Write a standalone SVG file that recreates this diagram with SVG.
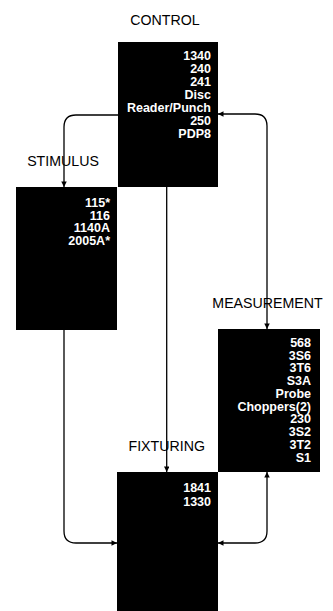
<svg xmlns="http://www.w3.org/2000/svg" width="333" height="611" viewBox="0 0 333 611">
<style>
.box{fill:#000}
.t{font-family:"Liberation Sans",Arial,sans-serif;font-weight:bold;font-size:12.5px;fill:#fff;text-anchor:end}
.lbl{font-family:"Liberation Sans",Arial,sans-serif;font-size:14.2px;fill:#000}
.c{fill:none;stroke:#000;stroke-width:1.3}
</style>
<defs>
<marker id="ah" viewBox="0 0 10 10" refX="10" refY="5" markerWidth="8" markerHeight="5.5" markerUnits="userSpaceOnUse" orient="auto-start-reverse">
<path d="M0,0 L10,5 L0,10 z" fill="#000"/>
</marker>
</defs>
<rect width="333" height="611" fill="#fff"/>
<g id="connectors">
<path class="c" d="M118,115 H76 Q64,115 64,127 V187" marker-end="url(#ah)"/>
<path class="c" d="M218,114 H255 Q267,114 267,126 V329" marker-start="url(#ah)" marker-end="url(#ah)"/>
<path class="c" d="M166.7,187 V472" marker-end="url(#ah)"/>
<path class="c" d="M64,330 V531 Q64,543 76,543 H117" marker-end="url(#ah)"/>
<path class="c" d="M267,472 V531 Q267,543 255,543 H218" marker-start="url(#ah)" marker-end="url(#ah)"/>
</g>
<g id="control">
<text class="lbl" x="165" y="25" text-anchor="middle">CONTROL</text>
<rect class="box" x="118" y="42" width="100" height="145"/>
<text class="t" x="211" y="60">1340</text>
<text class="t" x="211" y="73">240</text>
<text class="t" x="211" y="86">241</text>
<text class="t" x="211" y="99">Disc</text>
<text class="t" x="211" y="112">Reader/Punch</text>
<text class="t" x="211" y="125">250</text>
<text class="t" x="211" y="138">PDP8</text>
</g>
<g id="stimulus">
<text class="lbl" x="63" y="166" text-anchor="middle">STIMULUS</text>
<rect class="box" x="16" y="187" width="101" height="143"/>
<text class="t" x="110" y="207">115*</text>
<text class="t" x="110" y="219.5">116</text>
<text class="t" x="110" y="232.3">1140A</text>
<text class="t" x="110" y="245">2005A*</text>
</g>
<g id="measurement">
<text class="lbl" x="267.5" y="308" text-anchor="middle">MEASUREMENT</text>
<rect class="box" x="218" y="329" width="102" height="143"/>
<text class="t" x="311" y="346.7">568</text>
<text class="t" x="311" y="359.5">3S6</text>
<text class="t" x="311" y="372.3">3T6</text>
<text class="t" x="311" y="385">S3A</text>
<text class="t" x="311" y="397.8">Probe</text>
<text class="t" x="311" y="410.6">Choppers(2)</text>
<text class="t" x="311" y="423.4">230</text>
<text class="t" x="311" y="436.2">3S2</text>
<text class="t" x="311" y="449">3T2</text>
<text class="t" x="311" y="462">S1</text>
</g>
<g id="fixturing">
<text class="lbl" x="166.7" y="451" text-anchor="middle">FIXTURING</text>
<rect class="box" x="117" y="472" width="101" height="139"/>
<text class="t" x="211" y="492">1841</text>
<text class="t" x="211" y="506">1330</text>
</g>
</svg>
